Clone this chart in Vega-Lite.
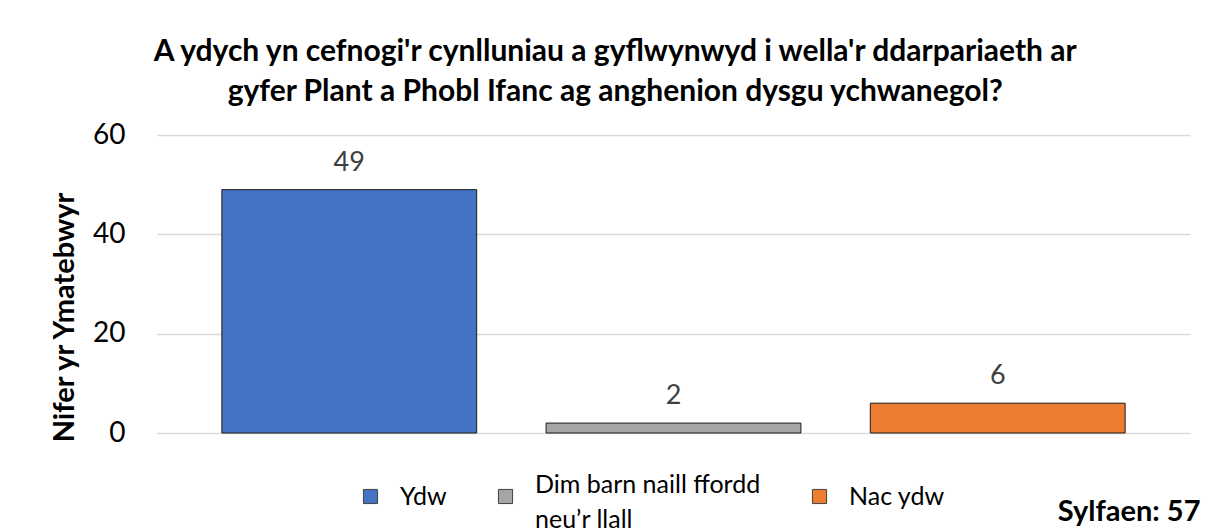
{
  "$schema": "https://vega.github.io/schema/vega-lite/v6.json",
  "autosize": {"type": "none"},
  "padding": {"left": 157, "top": 135, "right": 18, "bottom": 99},
  "width": 1033,
  "height": 298,
  "background": "white",
  "config": {"font": "Lato", "view": {"stroke": null}},
  "title": {
    "text": ["A ydych yn cefnogi'r cynlluniau a gyflwynwyd i wella'r ddarpariaeth ar", "gyfer Plant a Phobl Ifanc ag anghenion dysgu ychwanegol?"],
    "anchor": "middle",
    "frame": "bounds",
    "fontSize": 30,
    "fontWeight": "bold",
    "lineHeight": 40,
    "color": "#000000",
    "offset": 14,
    "dx": -10
  },
  "data": {
    "values": [
      {"ateb": "Ydw", "nifer": 49},
      {"ateb": "Dim barn naill ffordd neu’r llall", "nifer": 2},
      {"ateb": "Nac ydw", "nifer": 6}
    ]
  },
  "encoding": {
    "x": {
      "field": "ateb",
      "type": "nominal",
      "sort": null,
      "scale": {"paddingInner": 0.214, "paddingOuter": 0.2},
      "axis": {
        "labels": false,
        "ticks": false,
        "domain": false,
        "title": "Sylfaen: 57",
        "titleFontSize": 29,
        "titleFontWeight": "bold",
        "titleColor": "#000000",
        "titleAnchor": "end",
        "titleAlign": "right",
        "titleX": 1043,
        "titleY": 87,
        "titleBaseline": "alphabetic"
      }
    },
    "y": {
      "field": "nifer",
      "type": "quantitative",
      "scale": {"domain": [0, 60]},
      "axis": {
        "values": [0, 20, 40, 60],
        "title": "Nifer yr Ymatebwyr",
        "titleFontSize": 29,
        "titleFontWeight": "bold",
        "titleColor": "#000000",
        "titlePadding": 13,
        "titleY": 182,
        "labelFontSize": 28,
        "labelColor": "#000000",
        "labelPadding": 32,
        "ticks": false,
        "domain": false,
        "gridColor": "#D9D9D9",
        "gridWidth": 1.5
      }
    }
  },
  "layer": [
    {
      "mark": {"type": "bar", "stroke": "#1a1a1a", "strokeWidth": 1},
      "encoding": {
        "color": {
          "field": "ateb",
          "type": "nominal",
          "sort": null,
          "scale": {"domain": ["Ydw", "Dim barn naill ffordd neu’r llall", "Nac ydw"], "range": ["#4472C4", "#A5A5A5", "#ED7D31"]},
          "legend": {
            "title": null,
            "orient": "none",
            "legendX": 201,
            "legendY": 349,
            "direction": "horizontal",
            "columns": 3,
            "gridAlign": "none",
            "columnPadding": 46,
            "symbolType": "square",
            "symbolSize": 200,
            "symbolStrokeColor": "#404040",
            "symbolStrokeWidth": 1,
            "labelFontSize": 25,
            "labelColor": "#000000",
            "labelOffset": 17,
            "labelLimit": 500,
            "labelExpr": "datum.label == 'Dim barn naill ffordd neu’r llall' ? ['Dim barn naill ffordd', 'neu’r llall'] : datum.label",
            "encode": {"labels": {"update": {
              "lineHeight": {"value": 35},
              "dy": {"signal": "datum.value == 'Dim barn naill ffordd neu’r llall' ? -12 : 0"}
            }}}
          }
        }
      }
    },
    {
      "mark": {"type": "text", "baseline": "bottom", "dy": -13, "fontSize": 27, "color": "#404040"},
      "encoding": {"text": {"field": "nifer", "type": "quantitative"}}
    }
  ]
}
